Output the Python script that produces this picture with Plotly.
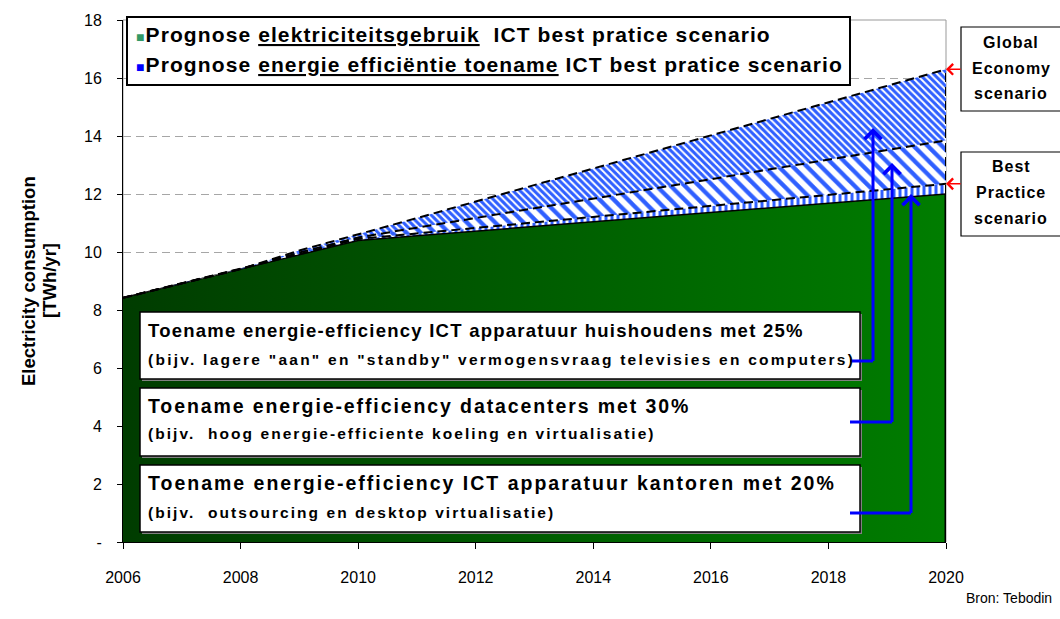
import plotly.graph_objects as go

# ---------------- data ----------------
years = [2006, 2007, 2008, 2009, 2010, 2011, 2012, 2013, 2014, 2015, 2016, 2017, 2018, 2019, 2020]
# best practice electricity use (green area)
green_use = [8.42, 8.92, 9.41, 9.91, 10.40, 10.56, 10.72, 10.88, 11.04, 11.20, 11.36, 11.52, 11.68, 11.84, 12.00]
# top of band 1 (kantoren) - Best Practice scenario line
band1_top = [8.42, 8.92, 9.41, 9.93, 10.45, 10.64, 10.83, 11.02, 11.21, 11.40, 11.59, 11.78, 11.97, 12.16, 12.35]
# top of band 2 (datacenters)
band2_top = [8.42, 8.92, 9.41, 9.98, 10.50, 10.84, 11.17, 11.51, 11.84, 12.18, 12.51, 12.85, 13.18, 13.52, 13.85]
# top of band 3 (huishoudens) - Global Economy scenario line
band3_top = [8.42, 8.92, 9.41, 10.05, 10.60, 11.17, 11.74, 12.31, 12.88, 13.45, 14.02, 14.59, 15.16, 15.73, 16.30]

x_ticks = [2006, 2008, 2010, 2012, 2014, 2016, 2018, 2020]
y_ticks = [0, 2, 4, 6, 8, 10, 12, 14, 16, 18]
y_ticktext = ["-", "2", "4", "6", "8", "10", "12", "14", "16", "18"]

legend_lines = [
    ("#339966", "Prognose <u>elektriciteitsgebruik</u>\u00a0\u00a0ICT best pratice scenario"),
    ("#0000ff", "Prognose <u>energie efficiëntie toename</u> ICT best pratice scenario"),
]
box_texts = [
    ("Toename energie-efficiency ICT apparatuur huishoudens met 25%",
     "(bijv. lagere \"aan\" en \"standby\" vermogensvraag televisies en computers)"),
    ("Toename energie-efficiency datacenters met 30%",
     "(bijv.\u00a0\u00a0hoog energie-efficiente koeling en virtualisatie)"),
    ("Toename energie-efficiency ICT apparatuur kantoren met 20%",
     "(bijv.\u00a0\u00a0outsourcing en desktop virtualisatie)"),
]
scenario_labels = [["Global", "Economy", "scenario"], ["Best", "Practice", "scenario"]]
y_title_lines = ["Electricity consumption", "[TWh/yr]"]
source_text = "Bron: Tebodin"

# ---------------- layout helpers (pixel -> paper) ----------------
W, H = 1060, 619
L, R, T, B = 123, 946, 20, 542


def px(x):
    return (x - L) / (R - L)


def py(y):
    return (B - y) / (B - T)


FONT = "Liberation Sans, Arial, sans-serif"
HATCH = "#2f5fff"
DASH = "9px,5px"

fig = go.Figure()

# green area with gradient
fig.add_trace(go.Scatter(
    x=years, y=green_use, mode="lines", fill="tozeroy",
    line=dict(color="black", width=1.5),
    fillgradient=dict(type="horizontal", colorscale=[[0, "#003c00"], [1, "#007d00"]]),
    hoverinfo="skip", showlegend=False))

# hatched bands
for top, shape, size, sol in [(band1_top, "|", 6, 0.5), (band2_top, "\\", 10, 0.42), (band3_top, "\\", 5, 0.6)]:
    fig.add_trace(go.Scatter(
        x=years, y=top, mode="lines", fill="tonexty",
        line=dict(color="black", width=2, dash=DASH),
        fillpattern=dict(shape=shape, size=size, solidity=sol, fgcolor=HATCH, bgcolor="white",
                         fgopacity=1, fillmode="replace"),
        hoverinfo="skip", showlegend=False))

# right edge: solid for green, dashed for bands
fig.add_trace(go.Scatter(x=[years[-1], years[-1]], y=[0, green_use[-1]], mode="lines",
                         line=dict(color="black", width=3), hoverinfo="skip", showlegend=False))
fig.add_trace(go.Scatter(x=[years[-1], years[-1]], y=[green_use[-1], band3_top[-1]], mode="lines",
                         line=dict(color="black", width=2, dash=DASH), hoverinfo="skip", showlegend=False))

shapes = []
annotations = []

# plot area border (gray)
shapes.append(dict(type="rect", xref="paper", yref="paper", x0=0, y0=0, x1=1, y1=1,
                   line=dict(color="#999999", width=1), layer="below"))


def box(x0, y0, x1, y1, lw=1.5, shadow=True):
    if shadow:
        shapes.append(dict(type="rect", xref="paper", yref="paper",
                           x0=px(x0 + 2), y0=py(y1 + 2), x1=px(x1 + 2), y1=py(y0 + 2),
                           line=dict(width=0), fillcolor="#808080"))
    shapes.append(dict(type="rect", xref="paper", yref="paper",
                       x0=px(x0), y0=py(y1), x1=px(x1), y1=py(y0),
                       line=dict(color="black", width=lw), fillcolor="white"))


def text(x, y, s, size, bold=True, anchor="left", spacing=0.0, angle=0):
    content = f"<span style='letter-spacing:{spacing}px'>{s}</span>" if spacing else s
    if bold:
        content = f"<b>{content}</b>"
    annotations.append(dict(x=px(x), y=py(y), xref="paper", yref="paper", text=content,
                            showarrow=False, xanchor=anchor, yanchor="middle", textangle=angle,
                            font=dict(family=FONT, size=size, color="black")))


# legend box
box(127, 17, 850, 85, lw=2, shadow=False)
for (col, s), yy in zip(legend_lines, [34, 64]):
    text(134, yy, f"<span style='color:{col};font-size:14px'>■</span>{s}", 21, spacing=1.1)

# annotation boxes
box_geo = [(312, 379), (388, 456), (465, 532)]
line_y = [(331, 360), (406, 433), (483, 512)]
sizes = [(18.5, 15.5), (19.5, 15.5), (19.5, 15.5)]
spac = [(1.25, 2.25), (1.9, 2.05), (2.0, 2.05)]
for (t1, t2), (y0, y1), (ya, yb), (s1, s2), (p1, p2) in zip(box_texts, box_geo, line_y, sizes, spac):
    box(140, y0, 860, y1)
    text(146, ya, t1, s1, spacing=p1)
    text(146, yb, t2, s2, spacing=p2)

# blue connectors
conn = [(361, 873, 128), (422, 892, 163), (513, 911, 194)]
for yline, xv, ytip in conn:
    shapes.append(dict(type="line", xref="paper", yref="paper", x0=px(850), y0=py(yline),
                       x1=px(xv), y1=py(yline), line=dict(color="#0000ff", width=3)))
    annotations.append(dict(x=px(xv), y=py(ytip), xref="paper", yref="paper", text="",
                            showarrow=True, ax=0, ay=yline - ytip + 1.5, arrowhead=4, arrowsize=1.1,
                            arrowwidth=3, arrowcolor="#0000ff", standoff=0))

# scenario boxes
box(961, 27, 1075, 111, lw=1.2, shadow=False)
box(961, 152, 1075, 236, lw=1.2, shadow=False)
for lines, ys in zip(scenario_labels, [(42, 68, 94), (166, 192, 218)]):
    for s, yy in zip(lines, ys):
        text(1011, yy, s, 16, anchor="center", spacing=1.0)

# red arrows
for yv in [band3_top[-1], band1_top[-1]]:
    annotations.append(dict(x=years[-1], y=yv, xref="x", yref="y", text="", showarrow=True,
                            ax=16, ay=0, arrowhead=4, arrowsize=1.4, arrowwidth=1.5,
                            arrowcolor="red", standoff=0))

# y-axis title
for s, xx in zip(y_title_lines, [28, 49]):
    annotations.append(dict(x=px(xx), y=py(281), xref="paper", yref="paper",
                            text=f"<b>{s}</b>", textangle=-90,
                            showarrow=False, xanchor="center", yanchor="middle",
                            font=dict(family=FONT, size=18.5, color="black")))

# source
annotations.append(dict(x=px(1054), y=py(598), xref="paper", yref="paper", text=source_text,
                        showarrow=False, xanchor="right", yanchor="middle",
                        font=dict(family=FONT, size=14, color="black")))

fig.update_layout(
    width=W, height=H,
    margin=dict(l=L, r=W - R, t=T, b=H - B, pad=0),
    paper_bgcolor="white", plot_bgcolor="white",
    showlegend=False,
    font=dict(family=FONT, size=16, color="black"),
    xaxis=dict(range=[2006, 2020], tickvals=x_ticks, showgrid=False, zeroline=False,
               showline=True, linecolor="black", linewidth=1, ticks="outside", ticklen=6,
               tickcolor="black", ticklabelstandoff=15,
               tickfont=dict(size=16, family=FONT, weight="normal")),
    yaxis=dict(range=[0, 18], tickvals=y_ticks, ticktext=y_ticktext, showgrid=True,
               gridcolor="#a6a6a6", griddash="8px,5px", gridwidth=1, zeroline=False,
               showline=True, linecolor="black", linewidth=1, ticks="outside", ticklen=5,
               tickcolor="black", ticklabelstandoff=12,
               tickfont=dict(size=16, family=FONT, weight="normal")),
    shapes=shapes, annotations=annotations,
)

fig.write_html("out.html", config={"displayModeBar": False},
               post_script="document.body.style.margin='0';")
